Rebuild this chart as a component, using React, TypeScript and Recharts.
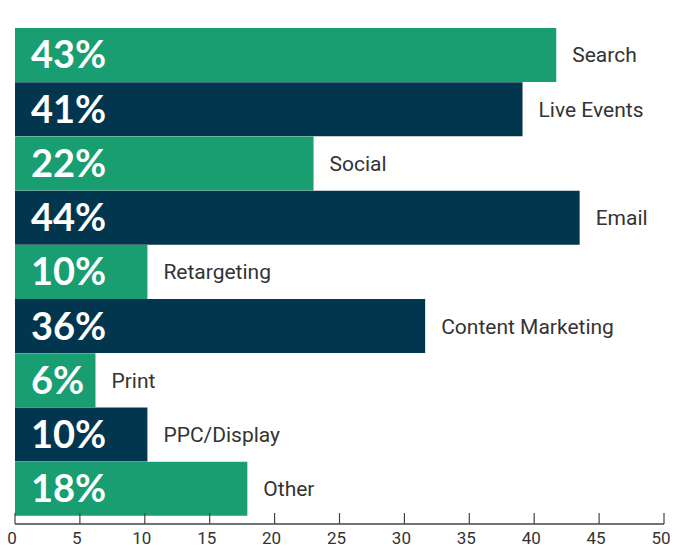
import { BarChart, Bar, XAxis, YAxis, Cell, LabelList } from 'recharts';

// channels, top to bottom
const channels = ['Search', 'Live Events', 'Social', 'Email', 'Retargeting', 'Content Marketing', 'Print', 'PPC/Display', 'Other'];
// bar lengths as drawn on the axis
const barValues = [41.7, 39.1, 23.0, 43.5, 10.2, 31.6, 6.2, 10.2, 17.9];
// printed labels inside the bars
const pctLabels = ['43%', '41%', '22%', '44%', '10%', '36%', '6%', '10%', '18%'];
const xTicks = [0, 5, 10, 15, 20, 25, 30, 35, 40, 45, 50];

const green = '#189e70';
const navy = '#02364f';

const data = channels.map((name, i) => ({ name, value: barValues[i], label: pctLabels[i] }));

const XTick = (props: any) => {
  const { x, y, payload } = props;
  return (
    <g>
      <line x1={x} y1={y} x2={x} y2={y - 11} stroke="#444" strokeWidth={1.2} />
      <text x={x - 3} y={y + 20} textAnchor="middle" fill="#333" fontSize={17} fontFamily="Roboto">
        {payload.value}
      </text>
    </g>
  );
};

export default function App() {
  return (
    <div style={{ position: 'absolute', left: 0, top: 0 }}>
      <BarChart
        width={678}
        height={548}
        data={data}
        layout="vertical"
        barCategoryGap={0}
        margin={{ top: 3, right: 14, left: 15, bottom: 0 }}
      >
        <XAxis
          type="number"
          domain={[0, 50]}
          ticks={xTicks}
          height={24}
          tickSize={0}
          tickMargin={0}
          tickLine={false}
          axisLine={{ stroke: '#444', strokeWidth: 1.5 }}
          tick={<XTick />}
        />
        <YAxis
          type="category"
          dataKey="name"
          width={0}
          tick={false}
          tickLine={false}
          padding={{ top: 25, bottom: 8 }}
          axisLine={{ stroke: '#999', strokeWidth: 2 }}
        />
        <Bar dataKey="value" isAnimationActive={false}>
          {data.map((d, i) => (
            <Cell key={`c-${i}`} fill={i % 2 === 0 ? green : navy} />
          ))}
          <LabelList
            dataKey="label"
            position="insideLeft"
            offset={16}
            fill="#fff"
            fontSize={38}
            fontWeight="bold"
            fontFamily="Lato"
          />
          <LabelList
            dataKey="name"
            position="right"
            offset={16}
            fill="#333"
            fontSize={21}
            fontFamily="Roboto"
          />
        </Bar>
      </BarChart>
    </div>
  );
}
